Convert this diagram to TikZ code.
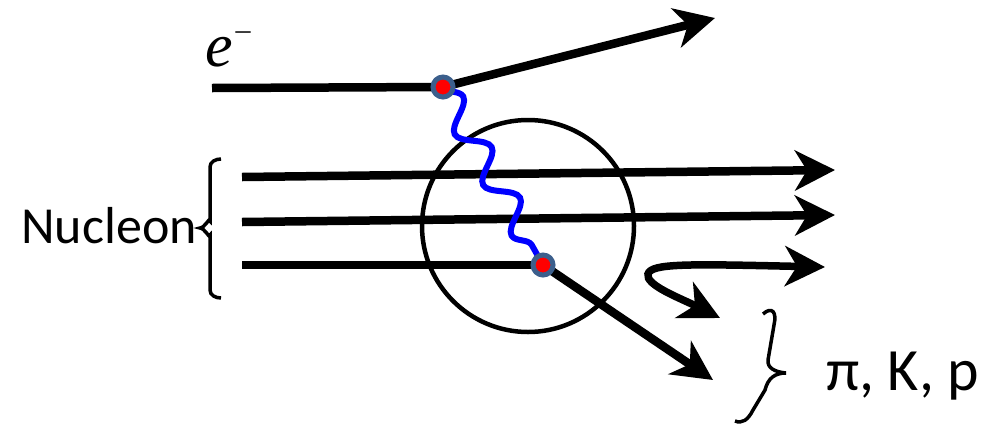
\documentclass[tikz,border=0pt]{standalone}
\usepackage{fontspec}
\setmainfont{Carlito}
\newfontfamily\timesfont{Liberation Serif}
\usetikzlibrary{arrows.meta,decorations.pathmorphing}
\definecolor{vtxblue}{RGB}{60,95,140}

\begin{document}
\begin{tikzpicture}[x=1pt,y=-1pt,
  line/.style={line width=8.5pt},
  tip/.style={-{Stealth[length=40pt,width=40pt,inset=12pt]}},
  photon/.style={blue,line width=6pt,decorate,
    decoration={snake,segment length=58pt,amplitude=13pt}},
  vertex/.style={circle,fill=red,draw=vtxblue,line width=5pt,
    minimum size=20pt,inner sep=0pt}]
  \useasboundingbox (0,0) rectangle (998,424);

  % electron
  \coordinate (ein) at (212,88);
  \coordinate (v1) at (443,87);
  \coordinate (eout) at (715,18);
  \node[anchor=base west,inner sep=0pt,font=\fontsize{62}{64}\selectfont]
    (elabel) at (205,66) {\timesfont\itshape e\kern3pt\raisebox{27pt}{\upshape\fontsize{30}{30}\selectfont –}};
  \draw[line] (ein) -- (v1);
  \draw[line,tip] (v1) -- (eout);

  % nucleon
  \draw[line width=4.5pt] (528,226) circle (106);
  \foreach \ya/\yb [count=\i] in {177/170,222/215} {
    \coordinate (qin\i) at (242,\ya);
    \coordinate (qout\i) at (835,\yb);
    \draw[line,tip] (qin\i) -- (qout\i);
  }
  \coordinate (qin3) at (242,265);
  \coordinate (v2) at (543,265);
  \coordinate (qout3) at (713,380);
  \draw[line] (qin3) -- (v2);
  \draw[line,tip] (v2) -- (qout3);

  % string
  \coordinate (sb) at (720,318);
  \coordinate (se) at (825,267);
  \draw[line width=7.5pt,{Stealth[length=40pt,width=40pt,inset=12pt]}-{Stealth[length=40pt,width=40pt,inset=12pt]}]
    (sb) .. controls (680,298) and (645,285) .. (648,274)
    .. controls (651,263) and (690,264) .. (se);

  % photon
  \draw[photon] (v1) -- (v2);
  \node[vertex] at (v1) {};
  \node[vertex] at (v2) {};

  % brackets
  \draw[line width=3.5pt] (221,159) to[out=180,in=90] (210,167) -- (210,221)
    to[out=90,in=0] (200,228) to[out=0,in=-90] (210,235) -- (210,290)
    to[out=-90,in=180] (221,298);
  \node[anchor=base east,inner sep=0pt,font=\fontsize{52}{54}\selectfont]
    (nucleon) at (197,243) {Nucleon};
  \draw[line width=3.5pt] (763,314) .. controls (772,306) and (777,312) .. (774,325)
    -- (768,360) .. controls (767,368) and (775,372) .. (786,373)
    .. controls (775,373) and (768,378) .. (765,390) -- (753,410)
    .. controls (748,420) and (742,424) .. (735,421);
  \node[anchor=base west,inner sep=0pt,font=\fontsize{60}{62}\selectfont]
    (hadrons) at (826,390) {π, K, p};
\end{tikzpicture}
\end{document}
